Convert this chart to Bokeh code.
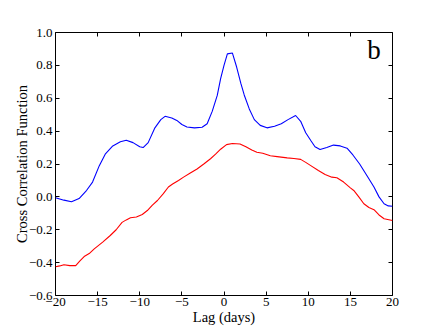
from bokeh.plotting import figure
from bokeh.models import FixedTicker, LinearAxis, Label, Range1d
from bokeh.embed import file_html
from bokeh.resources import INLINE

blue_lag = [-20, -19, -18.1, -17.2, -16.3, -15.6, -14.8, -14.1, -13.2, -12.3, -11.6, -10.8, -10.0, -9.6, -9.0,
            -8.2, -7.5, -7.0, -6.2, -5.6, -5.0, -4.4, -3.5, -2.6, -2.0, -1.4, -0.8, -0.4, 0.0, 0.4, 1.0, 1.5,
            2.0, 2.4, 3.0, 3.6, 4.3, 5.1, 6.0, 6.8, 7.6, 8.5, 9.1, 9.7, 10.3, 10.8, 11.4, 12.2, 13.0, 13.8,
            14.6, 15.3, 16.1, 16.9, 17.8, 18.4, 19.0, 19.5, 20.0]
blue_ccf = [-0.005, -0.02, -0.03, -0.01, 0.04, 0.09, 0.19, 0.26, 0.31, 0.335, 0.345, 0.33, 0.305, 0.30, 0.33,
            0.42, 0.47, 0.49, 0.48, 0.465, 0.44, 0.425, 0.42, 0.424, 0.445, 0.52, 0.617, 0.72, 0.80, 0.87, 0.875, 0.79,
            0.69, 0.62, 0.535, 0.47, 0.435, 0.42, 0.43, 0.445, 0.47, 0.495, 0.46, 0.39, 0.343, 0.305, 0.288, 0.30, 0.315, 0.31,
            0.296, 0.255, 0.20, 0.135, 0.06, 0.0, -0.042, -0.055, -0.057]

red_lag = [-20, -19.5, -19.0, -18.3, -17.6, -17.1, -16.6, -16.0, -15.4, -14.4, -13.5, -12.8, -12.1, -11.6, -11.1,
           -10.4, -9.7, -9.1, -8.5, -7.9, -7.2, -6.6, -6.1, -5.4, -4.8, -4.0, -3.2, -2.4, -1.6, -1.0, -0.4, 0.3,
           1.0, 1.9, 2.6, 3.3, 3.9, 4.6, 5.5, 6.3, 7.5, 8.3, 9.1, 9.7, 10.3, 11.2, 12.0, 12.8, 13.4, 14.2, 15.0,
           15.4, 16.0, 16.6, 17.2, 17.8, 18.4, 19.0, 20.0]
red_ccf = [-0.425, -0.42, -0.413, -0.418, -0.418, -0.39, -0.363, -0.345, -0.316, -0.275, -0.235, -0.2, -0.155, -0.14, -0.127,
           -0.122, -0.107, -0.083, -0.05, -0.022, 0.02, 0.06, 0.078, 0.1, 0.12, 0.145, 0.17, 0.2, 0.232, 0.26, 0.29, 0.318,
           0.325, 0.322, 0.305, 0.285, 0.272, 0.265, 0.25, 0.245, 0.237, 0.233, 0.228, 0.21, 0.19, 0.16, 0.136, 0.12, 0.116, 0.09, 0.055,
           0.039, 0.0, -0.042, -0.065, -0.078, -0.11, -0.133, -0.144]

x_ticks = [-20, -15, -10, -5, 0, 5, 10, 15, 20]
x_tick_labels = ["\u221220", "\u221215", "\u221210", "\u22125", "0", "5", "10", "15", "20"]
y_ticks = [-0.6, -0.4, -0.2, 0.0, 0.2, 0.4, 0.6, 0.8, 1.0]
y_tick_labels = ["\u22120.6", "\u22120.4", "\u22120.2", "0.0", "0.2", "0.4", "0.6", "0.8", "1.0"]

FONT = "'Liberation Serif', serif"

p = figure(output_backend="svg", toolbar_location=None,
           frame_width=337, frame_height=263,
           min_border_left=55, min_border_right=40, min_border_top=32, min_border_bottom=32,
           x_range=Range1d(-20, 20), y_range=Range1d(-0.6, 1.0))
p.background_fill_color = "white"
p.border_fill_color = "white"
p.outline_line_color = "black"
p.outline_line_width = 1
p.xgrid.visible = False
p.ygrid.visible = False

p.line(blue_lag, blue_ccf, line_color="#0000ff", line_width=1.1)
p.line(red_lag, red_ccf, line_color="#ff0000", line_width=1.1)

def style(ax):
    ax.major_tick_in = 4
    ax.major_tick_out = 0
    ax.minor_tick_in = 0
    ax.minor_tick_out = 0
    ax.axis_line_color = None
    ax.major_tick_line_color = "black"
    ax.major_label_text_font = FONT
    ax.major_label_text_font_size = "13px"
    ax.major_label_text_color = "black"
    ax.axis_label_text_font = FONT
    ax.axis_label_text_font_size = "14.5px"
    ax.axis_label_text_font_style = "normal"
    ax.axis_label_text_color = "black"

xa = p.xaxis[0]
xa.ticker = FixedTicker(ticks=x_ticks)
xa.major_label_overrides = {t: l for t, l in zip(x_ticks, x_tick_labels)}
xa.axis_label = "Lag (days)"
style(xa)
xa.major_label_standoff = 2
xa.axis_label_standoff = 0

ya = p.yaxis[0]
ya.ticker = FixedTicker(ticks=y_ticks)
ya.major_label_overrides = {t: l for t, l in zip(y_ticks, y_tick_labels)}
ya.axis_label = "Cross Correlation Function"
style(ya)
ya.major_label_standoff = 3
ya.axis_label_standoff = -4

top = LinearAxis(ticker=FixedTicker(ticks=x_ticks),
                 major_label_overrides={t: "" for t in x_ticks})
style(top)
p.add_layout(top, "above")
right = LinearAxis(ticker=FixedTicker(ticks=y_ticks),
                   major_label_overrides={t: "" for t in y_ticks})
style(right)
p.add_layout(right, "right")

p.add_layout(Label(x=17.0, y=0.895, text="b", text_font=FONT, text_font_size="27px",
                   text_align="left", text_baseline="alphabetic", text_color="black"))

open("out.html", "w").write(file_html(p, INLINE))
